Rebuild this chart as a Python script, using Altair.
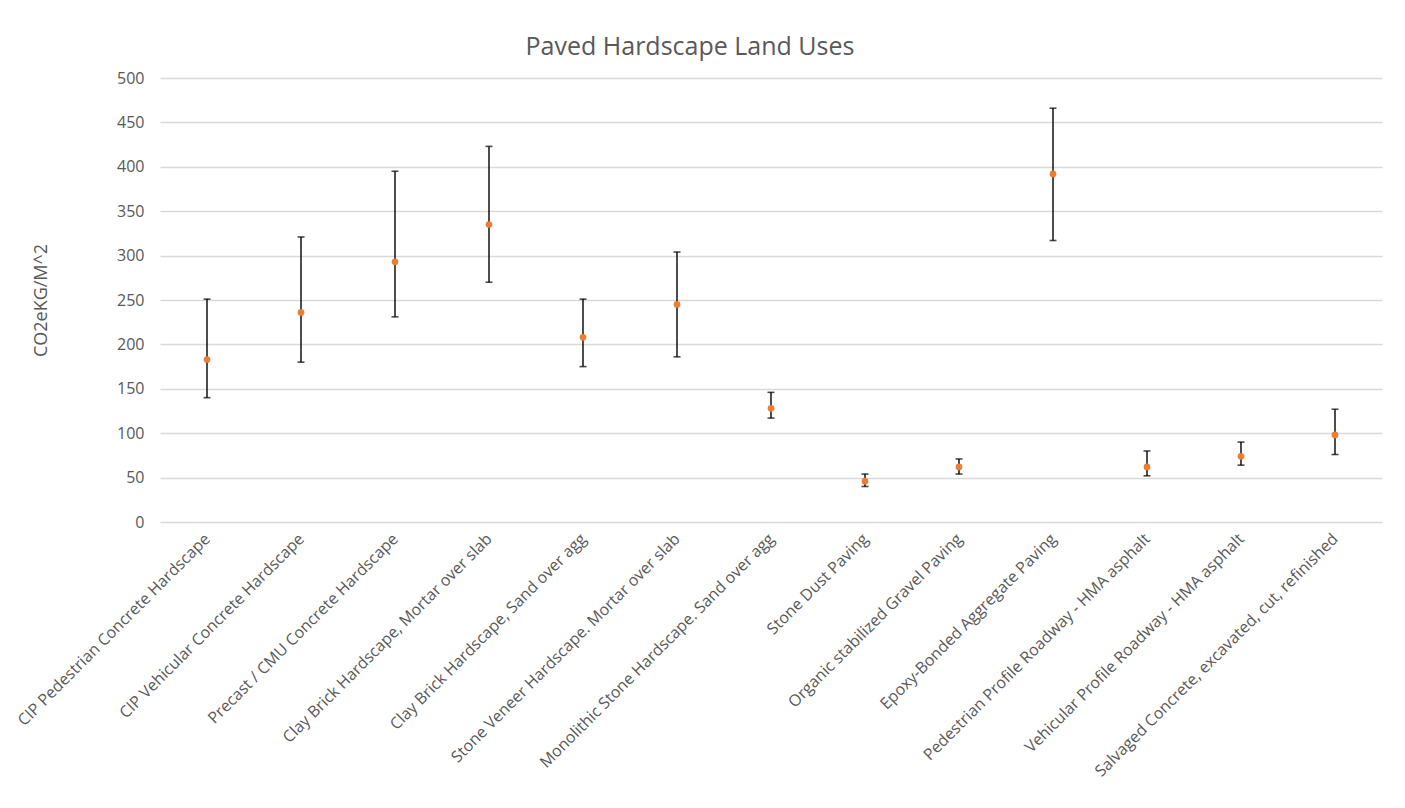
import altair as alt
import pandas as pd

categories = [
    "CIP Pedestrian Concrete Hardscape",
    "CIP Vehicular Concrete Hardscape",
    "Precast / CMU Concrete Hardscape",
    "Clay Brick Hardscape, Mortar over slab",
    "Clay Brick Hardscape, Sand over agg",
    "Stone Veneer Hardscape. Mortar over slab",
    "Monolithic Stone Hardscape. Sand over agg",
    "Stone Dust Paving",
    "Organic stabilized Gravel Paving",
    "Epoxy-Bonded Aggregate Paving",
    "Pedestrian Profile Roadway - HMA asphalt",
    "Vehicular Profile Roadway - HMA asphalt",
    "Salvaged Concrete, excavated, cut, refinished",
]
mid_values = [183, 236, 293, 335, 208, 245, 128, 46, 62, 392, 62, 74, 98]
high_values = [251, 321, 395, 423, 251, 304, 146, 54, 71, 466, 80, 90, 127]
low_values = [140, 180, 231, 270, 175, 186, 117, 40, 54, 317, 52, 64, 76]
y_ticks = [0, 50, 100, 150, 200, 250, 300, 350, 400, 450, 500]

df = pd.DataFrame({"cat": categories, "mid": mid_values, "lo": low_values, "hi": high_values})

FONT = "Open Sans"
TXT = "#595959"

x = alt.X(
    "cat:N",
    sort=categories,
    scale=alt.Scale(type="point", padding=0.5),
    axis=alt.Axis(
        title=None,
        labelAngle=-45,
        labelAlign="right",
        labelBaseline="middle",
        labelPadding=14,
        labelLimit=500,
        labelFontSize=16,
        labelFont=FONT,
        labelColor=TXT,
        ticks=False,
        domain=False,
        grid=False,
    ),
)
yscale = alt.Scale(domain=[0, 500], nice=False)
yaxis = alt.Axis(
    values=y_ticks,
    title="CO2eKG/M^2",
    titleFont=FONT,
    titleFontSize=18,
    titleFontWeight="normal",
    titleColor=TXT,
    titlePadding=66,
    labelFont=FONT,
    labelFontSize=16,
    labelColor=TXT,
    labelPadding=16,
    ticks=False,
    domain=False,
    grid=True,
    gridColor="#D9D9D9",
    gridWidth=1.3,
)

base = alt.Chart(df)
rules = base.mark_rule(color="black", strokeWidth=1.4).encode(
    x=x, y=alt.Y("lo:Q", scale=yscale, axis=yaxis), y2="hi:Q"
)
cap_lo = base.mark_tick(color="black", size=7, thickness=1.6).encode(x=x, y=alt.Y("lo:Q", scale=yscale))
cap_hi = base.mark_tick(color="black", size=7, thickness=1.6).encode(x=x, y=alt.Y("hi:Q", scale=yscale))
points = base.mark_circle(color="#ED7D31", size=45, opacity=1).encode(
    x=x, y=alt.Y("mid:Q", scale=yscale)
)

chart = (
    alt.layer(rules, cap_lo, cap_hi, points)
    .properties(
        width=1222,
        height=444,
        title=alt.TitleParams(
            "Paved Hardscape Land Uses",
            font=FONT,
            fontSize=25,
            fontWeight="normal",
            color=TXT,
            dx=-81,
            offset=10,
        ),
        autosize=alt.AutoSizeParams(type="none"),
        padding={"left": 152, "top": 70, "right": 10, "bottom": 275},
    )
    .configure_view(stroke=None)
)

chart.save("out.html", embed_options={"renderer": "svg", "actions": False})
